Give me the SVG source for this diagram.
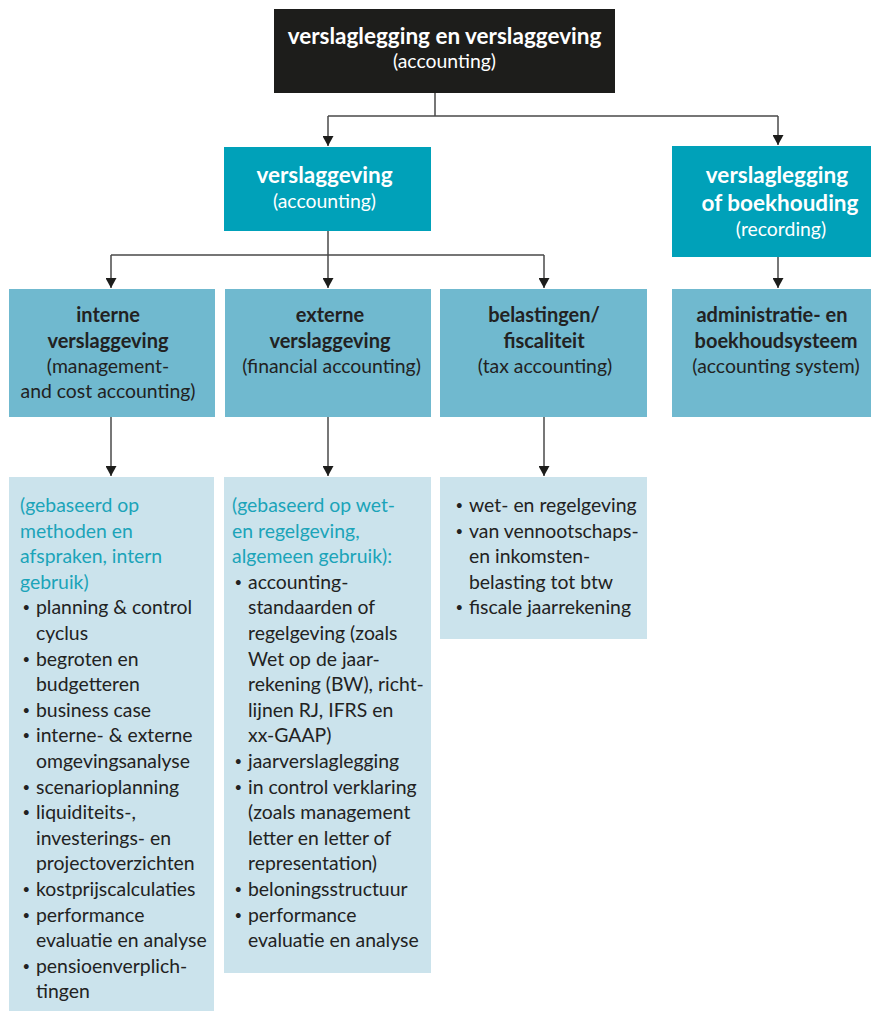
<svg xmlns="http://www.w3.org/2000/svg" width="871" height="1011" viewBox="0 0 871 1011">
<defs>
<marker id="ah" markerUnits="userSpaceOnUse" markerWidth="10" markerHeight="11" refX="10" refY="5.5" orient="auto">
<path d="M0,0 L10,5.5 L0,11 z" fill="#1d1d1b"/>
</marker>
<style>
text{font-family:Lato,"Liberation Sans",sans-serif;font-size:19.4px;fill:#222}
.t{font-weight:bold;font-size:20px}
.t1{font-weight:bold;font-size:22.5px}
.c{text-anchor:middle}
.w{fill:#fff}
.cy{fill:#1ba4b9}
.b{font-size:13px}
.con path{fill:none;stroke:#4a4a4a;stroke-width:1.5}
.l2{fill:#70b9cf}
.l3{fill:#cbe3ec}
</style>
</defs>
<rect width="871" height="1011" fill="#fff"/>
<g class="con">
<path d="M435,93 V116 M328,116 H778"/>
<path d="M328,116 V146" marker-end="url(#ah)"/>
<path d="M778,116 V145" marker-end="url(#ah)"/>
<path d="M328,231 V255 M111,255 H544"/>
<path d="M111,255 V288" marker-end="url(#ah)"/>
<path d="M328,255 V288" marker-end="url(#ah)"/>
<path d="M544,255 V288" marker-end="url(#ah)"/>
<path d="M778,257 V288" marker-end="url(#ah)"/>
<path d="M111,417 V476" marker-end="url(#ah)"/>
<path d="M328,417 V476" marker-end="url(#ah)"/>
<path d="M544,417 V476" marker-end="url(#ah)"/>
</g>
<g id="top">
<rect x="274" y="9" width="341" height="84" fill="#1d1d1b"/>
<text class="c t1 w" x="444.5" y="44">verslaglegging en verslaggeving</text>
<text class="c w" x="444.5" y="68">(accounting)</text>
</g>
<g id="verslaggeving">
<rect x="224" y="147" width="207" height="84" fill="#00a1b9"/>
<text class="c t1 w" x="324.5" y="183">verslaggeving</text>
<text class="c w" x="324.5" y="208">(accounting)</text>
</g>
<g id="verslaglegging">
<rect x="672" y="146" width="199" height="111" fill="#00a1b9"/>
<text class="c t1 w" x="777" y="183">verslaglegging</text>
<text class="c t1 w" x="780" y="211">of boekhouding</text>
<text class="c w" x="781" y="236">(recording)</text>
</g>
<g id="interne">
<rect class="l2" x="9" y="289" width="206" height="128"/>
<text class="c t" x="108" y="322">interne</text>
<text class="c t" x="108" y="348">verslaggeving</text>
<text class="c" x="108" y="373">(management-</text>
<text class="c" x="108" y="398">and cost accounting)</text>
</g>
<g id="externe">
<rect class="l2" x="225" y="289" width="206" height="128"/>
<text class="c t" x="330" y="322">externe</text>
<text class="c t" x="330" y="348">verslaggeving</text>
<text class="c" x="331.5" y="373">(financial accounting)</text>
</g>
<g id="belastingen">
<rect class="l2" x="440" y="289" width="207" height="128"/>
<text class="c t" x="544" y="322">belastingen/</text>
<text class="c t" x="544" y="348">fiscaliteit</text>
<text class="c" x="545" y="373">(tax accounting)</text>
</g>
<g id="administratie">
<rect class="l2" x="672" y="289" width="199" height="128"/>
<text class="c t" x="772" y="322">administratie- en</text>
<text class="c t" x="776" y="348">boekhoudsysteem</text>
<text class="c" x="776" y="373">(accounting system)</text>
</g>
<g id="interne-detail">
<rect class="l3" x="9" y="477" width="205" height="534"/>
<text class="cy" x="20" y="512">(gebaseerd op</text>
<text class="cy" x="20" y="537.6">methoden en</text>
<text class="cy" x="20" y="563.2">afspraken, intern</text>
<text class="cy" x="20" y="588.8">gebruik)</text>
<text class="b" x="22.5" y="612.4">•</text><text x="36" y="614.4">planning &amp; control</text>
<text x="36" y="640">cyclus</text>
<text class="b" x="22.5" y="663.6">•</text><text x="36" y="665.6">begroten en</text>
<text x="36" y="691.2">budgetteren</text>
<text class="b" x="22.5" y="714.8">•</text><text x="36" y="716.8">business case</text>
<text class="b" x="22.5" y="740.4">•</text><text x="36" y="742.4">interne- &amp; externe</text>
<text x="36" y="768">omgevingsanalyse</text>
<text class="b" x="22.5" y="791.6">•</text><text x="36" y="793.6">scenarioplanning</text>
<text class="b" x="22.5" y="817.2">•</text><text x="36" y="819.2">liquiditeits-,</text>
<text x="36" y="844.8">investerings- en</text>
<text x="36" y="870.4">projectoverzichten</text>
<text class="b" x="22.5" y="894">•</text><text x="36" y="896">kostprijscalculaties</text>
<text class="b" x="22.5" y="919.6">•</text><text x="36" y="921.6">performance</text>
<text x="36" y="947.2">evaluatie en analyse</text>
<text class="b" x="22.5" y="970.8">•</text><text x="36" y="972.8">pensioenverplich-</text>
<text x="36" y="998.4">tingen</text>
</g>
<g id="externe-detail">
<rect class="l3" x="224" y="477" width="207" height="496"/>
<text class="cy" x="232" y="512">(gebaseerd op wet-</text>
<text class="cy" x="232" y="537.6">en regelgeving,</text>
<text class="cy" x="232" y="563.2">algemeen gebruik):</text>
<text class="b" x="234.5" y="586.8">•</text><text x="248" y="588.8">accounting-</text>
<text x="248" y="614.4">standaarden of</text>
<text x="248" y="640">regelgeving (zoals</text>
<text x="248" y="665.6">Wet op de jaar-</text>
<text x="248" y="691.2">rekening (BW), richt-</text>
<text x="248" y="716.8">lijnen RJ, IFRS en</text>
<text x="248" y="742.4">xx-GAAP)</text>
<text class="b" x="234.5" y="766">•</text><text x="248" y="768">jaarverslaglegging</text>
<text class="b" x="234.5" y="791.6">•</text><text x="248" y="793.6">in control verklaring</text>
<text x="248" y="819.2">(zoals management</text>
<text x="248" y="844.8">letter en letter of</text>
<text x="248" y="870.4">representation)</text>
<text class="b" x="234.5" y="894">•</text><text x="248" y="896">beloningsstructuur</text>
<text class="b" x="234.5" y="919.6">•</text><text x="248" y="921.6">performance</text>
<text x="248" y="947.2">evaluatie en analyse</text>
</g>
<g id="belastingen-detail">
<rect class="l3" x="440" y="477" width="207" height="162"/>
<text class="b" x="455.5" y="510">•</text><text x="469" y="512">wet- en regelgeving</text>
<text class="b" x="455.5" y="535.6">•</text><text x="469" y="537.6">van vennootschaps-</text>
<text x="469" y="563.2">en inkomsten-</text>
<text x="469" y="588.8">belasting tot btw</text>
<text class="b" x="455.5" y="612.4">•</text><text x="469" y="614.4">fiscale jaarrekening</text>
</g>
</svg>
